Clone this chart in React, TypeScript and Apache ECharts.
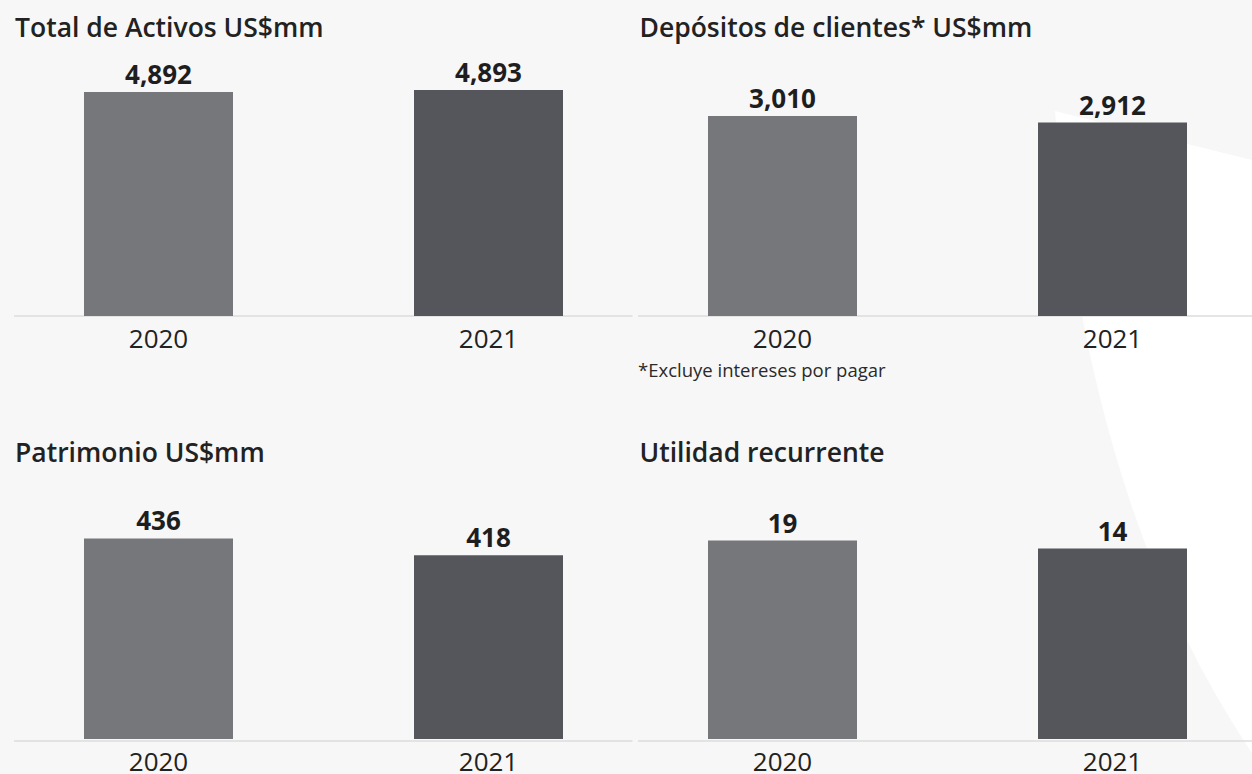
import React, { useEffect, useRef } from "react";
import * as echarts from "echarts";

const categories = ["2020", "2021"];
const activos = [4892, 4893];
const depositos = [3010, 2912];
const patrimonio = [436, 418];
const utilidad = [19, 14];
const panelTitles = [
  "Total de Activos US$mm",
  "Depósitos de clientes* US$mm",
  "Patrimonio US$mm",
  "Utilidad recurrente",
];
const footnote = "*Excluye intereses por pagar";

const barColors = ["#76777b", "#55565b"];
const FONT = "'Open Sans', 'Noto Sans', sans-serif";

echarts.graphic.registerShape(
  "swoosh",
  echarts.graphic.extendPath("M1055 111 L1252 160 L1252 753 Q1086.5 508 1055 111 Z", {})
);

export default function App() {
  const ref = useRef<HTMLDivElement>(null);

  useEffect(() => {
    if (!ref.current) return;
    const chart = echarts.init(ref.current, undefined, { renderer: "svg" });

    const panels = [
      { data: activos, left: 158.5, top: 60, min: 4780, max: 4908 },
      { data: depositos, left: 782.5, top: 60, min: 0, max: 3853 },
      { data: patrimonio, left: 158.5, top: 485, min: 222, max: 493 },
      { data: utilidad, left: 782.5, top: 485, min: -106, max: 54 },
    ];

    const titleTops = [13.2, 13.2, 438.8, 438.8];
    const titleLefts = [15, 639.5, 15, 639.5];

    const axisLines = [
      { x1: 14, x2: 632.5, y: 316 },
      { x1: 638, x2: 1252, y: 316 },
      { x1: 14, x2: 632.5, y: 741 },
      { x1: 638, x2: 1252, y: 741 },
    ];

    chart.setOption({
      animation: false,
      backgroundColor: "#f7f7f7",
      title: [
        ...panelTitles.map((t, i) => ({
          text: t,
          left: titleLefts[i],
          top: titleTops[i],
          padding: 0,
          textStyle: { fontSize: 26.5, fontWeight: 600, fontFamily: FONT, color: "#222222" },
        })),
        {
          text: footnote,
          left: 638,
          top: 360,
          padding: 0,
          textStyle: { fontSize: 18.5, fontWeight: "normal", fontFamily: FONT, color: "#2a2a2a" },
        },
      ],
      graphic: [
        { type: "swoosh", x: 0, y: 0, z: -1, silent: true, style: { fill: "#ffffff" } },
        ...axisLines.map((l) => ({
          type: "line",
          z: 0,
          silent: true,
          shape: { x1: l.x1, y1: l.y, x2: l.x2, y2: l.y },
          style: { stroke: "#dcdcdc", lineWidth: 1.5 },
        })),
      ],
      grid: panels.map((p) => ({ left: p.left, top: p.top, width: 330, height: 256 })),
      xAxis: panels.map((p, i) => ({
        gridIndex: i,
        type: "category",
        boundaryGap: false,
        data: categories,
        axisLine: { show: false },
        axisTick: { show: false },
        axisLabel: {
          margin: 12,
          fontSize: 26,
          lineHeight: 20,
          color: "#222222",
          fontFamily: FONT,
        },
      })),
      yAxis: panels.map((p, i) => ({
        gridIndex: i,
        type: "value",
        min: p.min,
        max: p.max,
        startValue: p.min,
        show: false,
        splitLine: { show: false },
      })),
      series: panels.map((p, i) => ({
        type: "bar",
        xAxisIndex: i,
        yAxisIndex: i,
        barWidth: 149,
        clip: false,
        z: 2,
        data: p.data.map((v, j) => ({ value: v, itemStyle: { color: barColors[j] } })),
        label: {
          show: true,
          position: "top",
          distance: 5,
          formatter: (d: any) => Number(d.value).toLocaleString("en-US"),
          fontSize: 26,
          fontWeight: "bold",
          color: "#1e1e1e",
          fontFamily: FONT,
        },
      })),
    });

    return () => chart.dispose();
  }, []);

  return (
    <div
      ref={ref}
      style={{ position: "fixed", left: 0, top: 0, width: 1252, height: 774 }}
    />
  );
}
